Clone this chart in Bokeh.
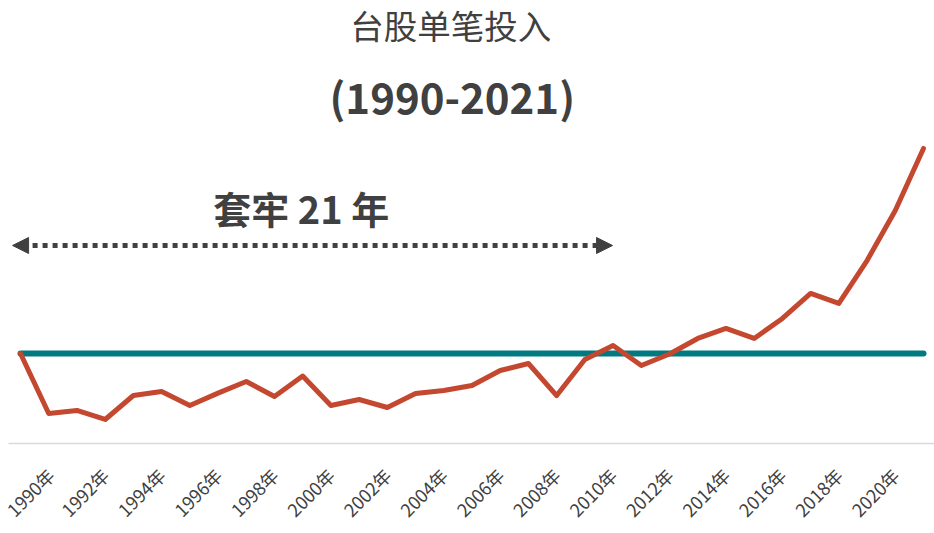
import numpy as np
from bokeh.plotting import figure
from bokeh.models import Label, Arrow, NormalHead, FixedTicker, Range1d
from bokeh.embed import file_html
from bokeh.resources import INLINE

# ---- data ----
# index 0 = starting point (invested at start of 1990), index i = end of year 1989+i
years = [""] + [f"{y}年" for y in range(1990, 2022)]
values = [100.0, 33.3, 36.7, 26.7, 53.3, 57.8, 42.2, 56.0, 68.9, 52.2,
          75.0, 42.2, 48.9, 40.0, 55.6, 58.9, 64.4, 81.1, 88.9, 53.3,
          93.3, 108.9, 86.7, 99.5, 116.7, 127.8, 116.7, 138.9, 166.7, 155.6,
          203.3, 258.9, 327.8]
tick_years = list(range(1990, 2021, 2))
title_main = "台股单笔投入"
title_sub = "(1990-2021)"
note_text = "套牢 21 年"
stuck_years = 21

x = list(range(len(years)))
FONT = "Noto Sans CJK SC"
TXT = "#404040"

p = figure(width=934, height=533, output_backend="svg", toolbar_location=None,
           x_range=Range1d(-0.425, 32.39), y_range=Range1d(0, 492.2),
           min_border_left=8, min_border_right=0, min_border_top=0, min_border_bottom=90)
p.outline_line_color = None
p.grid.visible = False
p.yaxis.visible = False

# horizontal reference line at start value
p.line([x[0], x[-1]], [values[0], values[0]], line_color="#007A80", line_width=6, line_cap="round")
# main series
p.line(x, values, line_color="#C4482F", line_width=5, line_join="round", line_cap="round")

# x-axis
ticks = [years.index(f"{y}年") for y in tick_years]
p.xaxis.ticker = FixedTicker(ticks=ticks)
p.xaxis.major_label_overrides = {t: years[t] for t in ticks}
p.xaxis.major_label_orientation = np.pi / 4
p.xaxis.major_label_text_font = FONT
p.xaxis.major_label_text_font_size = "18px"
p.xaxis.major_label_text_color = TXT
p.xaxis.major_label_standoff = 22
p.xaxis.axis_line_color = "#D9D9D9"
p.xaxis.axis_line_width = 1.5
p.xaxis.major_tick_line_color = None
p.xaxis.minor_tick_line_color = None

# titles
p.add_layout(Label(x=15.25, y=465, text=title_main, text_font=FONT, text_font_size="33.5px",
                   text_color=TXT, text_align="center", text_baseline="middle"))
p.add_layout(Label(x=15.3, y=387, text=title_sub, text_font=FONT, text_font_size="42px",
                   text_font_style="bold", text_color=TXT, text_align="center", text_baseline="middle"))
p.add_layout(Label(x=stuck_years / 2 - 0.55, y=262, text=note_text, text_font=FONT, text_font_size="38px",
                   text_font_style="bold", text_color=TXT, text_align="center", text_baseline="middle"))

# dotted double arrow spanning the stuck period
p.add_layout(Arrow(x_start=x[0] - 0.28, y_start=220, x_end=x[0] + stuck_years - 0.02, y_end=220,
                   line_color=TXT, line_width=5, line_dash="5 5",
                   start=NormalHead(size=16, fill_color=TXT, line_color=TXT),
                   end=NormalHead(size=16, fill_color=TXT, line_color=TXT)))

open("out.html", "w").write(file_html(p, INLINE))
